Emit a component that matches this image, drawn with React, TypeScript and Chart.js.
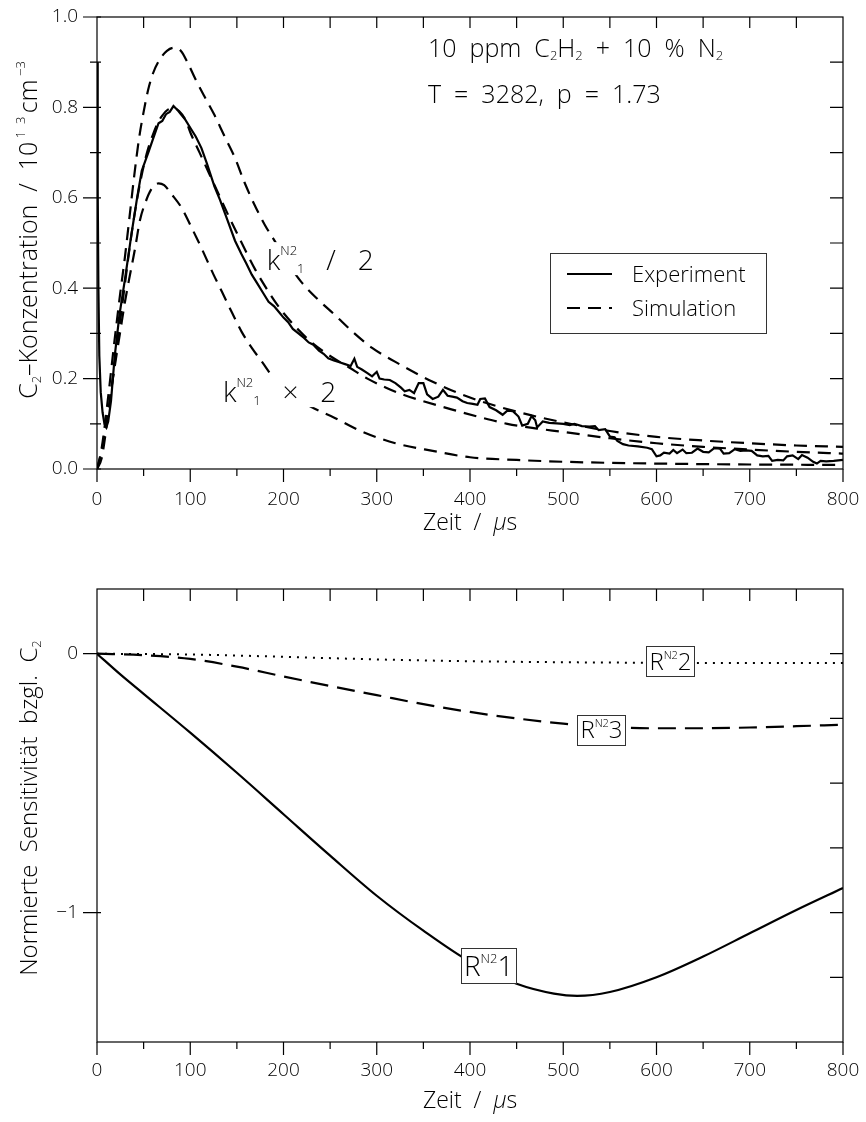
import React, { useEffect, useRef } from 'react';
import { Chart, registerables } from 'chart.js';

Chart.register(...registerables);

const FONT = '"Open Sans", Lato, "DejaVu Sans", sans-serif';
const FW = '300';

// ---------------- Top chart: C2 concentration (10^13 cm^-3) vs time (µs)
const expT = [0, 0.5, 1, 1.5, 2.5, 4, 6, 8, 10, 12, 15, 19, 24, 30, 37, 43, 48, 55, 60, 66, 70, 74, 78, 82, 86, 90, 94, 100, 106, 112, 118, 126, 132, 140, 148, 155, 160, 166, 172, 178, 184, 190, 196, 200, 205, 210, 216, 222, 227, 232, 238, 243, 248, 254, 260, 266, 272, 276, 279, 284, 290, 295, 300, 303, 308, 314, 320, 326, 330, 335, 340, 345, 350, 354, 360, 366, 371, 376, 381, 386, 392, 397, 403, 408, 411, 416, 421, 428, 435, 440, 446, 452, 456, 462, 466, 470, 472, 478, 485, 493, 500, 507, 512, 520, 528, 534, 538, 545, 550, 555, 558, 564, 570, 580, 590, 595, 600, 604, 608, 614, 618, 622, 628, 632, 638, 644, 650, 656, 662, 668, 672, 678, 684, 690, 696, 702, 708, 714, 720, 724, 730, 736, 740, 746, 752, 756, 762, 768, 772, 776, 782, 790, 800];
const expV = [0.9, 0.8, 0.62, 0.4, 0.25, 0.17, 0.125, 0.1, 0.092, 0.105, 0.15, 0.25, 0.34, 0.42, 0.52, 0.6, 0.66, 0.7, 0.73, 0.765, 0.77, 0.785, 0.79, 0.803, 0.795, 0.785, 0.775, 0.755, 0.735, 0.71, 0.675, 0.625, 0.595, 0.55, 0.505, 0.475, 0.455, 0.43, 0.41, 0.39, 0.37, 0.36, 0.345, 0.335, 0.325, 0.31, 0.3, 0.29, 0.28, 0.275, 0.262, 0.255, 0.245, 0.24, 0.236, 0.232, 0.228, 0.244, 0.226, 0.22, 0.212, 0.205, 0.215, 0.2, 0.198, 0.197, 0.19, 0.18, 0.172, 0.175, 0.168, 0.19, 0.19, 0.165, 0.155, 0.16, 0.175, 0.162, 0.16, 0.158, 0.15, 0.146, 0.144, 0.142, 0.155, 0.156, 0.137, 0.13, 0.12, 0.129, 0.128, 0.116, 0.096, 0.1, 0.117, 0.108, 0.092, 0.105, 0.102, 0.101, 0.1, 0.097, 0.1, 0.095, 0.094, 0.095, 0.086, 0.088, 0.072, 0.07, 0.062, 0.055, 0.052, 0.05, 0.047, 0.044, 0.028, 0.03, 0.036, 0.034, 0.042, 0.035, 0.043, 0.035, 0.036, 0.045, 0.038, 0.037, 0.046, 0.045, 0.034, 0.035, 0.044, 0.04, 0.041, 0.04, 0.03, 0.028, 0.029, 0.018, 0.02, 0.019, 0.028, 0.03, 0.022, 0.031, 0.025, 0.016, 0.012, 0.018, 0.017, 0.018, 0.02];

// Simulation with k1(N2) / 2
const simHalfT = [0, 5, 12, 18, 25, 30, 35, 40, 45, 50, 55, 60, 67, 75, 83, 90, 97, 105, 115, 126, 137, 148, 158, 169, 180, 191, 205, 219, 237, 255, 275, 295, 320, 360, 400, 450, 500, 550, 600, 650, 700, 750, 800];
const simHalfV = [0, 0.046, 0.16, 0.27, 0.39, 0.47, 0.56, 0.65, 0.73, 0.79, 0.84, 0.875, 0.905, 0.925, 0.932, 0.925, 0.9, 0.865, 0.825, 0.783, 0.735, 0.688, 0.635, 0.584, 0.54, 0.503, 0.455, 0.414, 0.375, 0.341, 0.302, 0.268, 0.237, 0.193, 0.158, 0.127, 0.103, 0.084, 0.071, 0.063, 0.057, 0.052, 0.049];

// Simulation with reference k1(N2)
const simRefT = [0, 5, 10, 15, 20, 25, 30, 35, 40, 45, 50, 55, 60, 65, 70, 76, 82, 88, 95, 100, 110, 120, 130, 140, 150, 160, 170, 180, 190, 200, 215, 230, 250, 270, 290, 310, 330, 350, 380, 410, 440, 470, 500, 550, 600, 650, 700, 750, 800];
const simRefV = [0, 0.04, 0.1, 0.17, 0.25, 0.33, 0.41, 0.49, 0.56, 0.62, 0.67, 0.71, 0.74, 0.765, 0.782, 0.795, 0.798, 0.792, 0.772, 0.745, 0.7, 0.655, 0.61, 0.565, 0.522, 0.48, 0.44, 0.405, 0.373, 0.345, 0.31, 0.28, 0.25, 0.225, 0.2, 0.18, 0.163, 0.15, 0.132, 0.115, 0.1, 0.09, 0.082, 0.068, 0.057, 0.049, 0.043, 0.038, 0.034];

// Simulation with k1(N2) x 2
const simDoubleT = [0, 5, 10, 14, 20, 25, 30, 34, 41, 46, 52, 58, 66, 72, 80, 91, 100, 112, 125, 134, 145, 155, 166, 177, 190, 210, 230, 255, 284, 320, 360, 400, 450, 500, 600, 700, 800];
const simDoubleV = [0, 0.024, 0.09, 0.157, 0.24, 0.305, 0.37, 0.415, 0.49, 0.55, 0.59, 0.618, 0.632, 0.628, 0.608, 0.577, 0.54, 0.489, 0.43, 0.392, 0.345, 0.304, 0.268, 0.237, 0.2, 0.163, 0.137, 0.113, 0.083, 0.057, 0.04, 0.026, 0.02, 0.016, 0.012, 0.01, 0.009];

// ---------------- Bottom chart: normalized sensitivity of C2
const r1T = [0, 25, 50, 100, 150, 200, 250, 300, 350, 400, 450, 490, 515, 550, 600, 650, 700, 750, 800];
const r1V = [0, -0.08, -0.155, -0.305, -0.46, -0.62, -0.78, -0.935, -1.07, -1.19, -1.275, -1.313, -1.322, -1.307, -1.25, -1.17, -1.08, -0.99, -0.905];
const r2T = [0, 100, 200, 300, 400, 500, 600, 700, 800];
const r2V = [0, -0.003, -0.012, -0.022, -0.029, -0.033, -0.035, -0.036, -0.036];
const r3T = [0, 50, 100, 150, 200, 250, 300, 350, 400, 450, 500, 550, 600, 650, 700, 750, 800];
const r3V = [0, -0.006, -0.02, -0.05, -0.088, -0.125, -0.16, -0.195, -0.225, -0.25, -0.27, -0.283, -0.288, -0.288, -0.285, -0.28, -0.274];

const X_MIN = 0;
const X_MAX = 800;

const pts = (t: number[], v: number[]) => t.map((x, i) => ({ x, y: v[i] }));

type Run = { t: string; s: number; dy?: number; it?: boolean };

const fontOf = (r: Run) => `${r.it ? 'italic ' : ''}${FW} ${r.s}px ${FONT}`;

function runsWidth(ctx: CanvasRenderingContext2D, runs: Run[]) {
  let w = 0;
  runs.forEach((r) => {
    ctx.font = fontOf(r);
    w += ctx.measureText(r.t).width;
  });
  return w;
}

function drawRuns(ctx: CanvasRenderingContext2D, runs: Run[], x: number, y: number, align: 'left' | 'center' = 'left') {
  ctx.save();
  ctx.fillStyle = '#000';
  ctx.textAlign = 'left';
  ctx.textBaseline = 'alphabetic';
  const total = runsWidth(ctx, runs);
  let cx = align === 'center' ? x - total / 2 : x;
  runs.forEach((r) => {
    ctx.font = fontOf(r);
    ctx.fillText(r.t, cx, y + (r.dy || 0));
    cx += ctx.measureText(r.t).width;
  });
  ctx.restore();
  return total;
}

function drawVerticalTitle(ctx: CanvasRenderingContext2D, runs: Run[], cx: number, cy: number) {
  ctx.save();
  ctx.translate(cx, cy);
  ctx.rotate(-Math.PI / 2);
  drawRuns(ctx, runs, 0, 9, 'center');
  ctx.restore();
}

function boxedLabel(ctx: CanvasRenderingContext2D, runs: Run[], cx: number, cy: number, size: number) {
  const w = runsWidth(ctx, runs);
  const h = size * 1.25;
  ctx.save();
  ctx.fillStyle = '#fff';
  ctx.strokeStyle = '#333';
  ctx.lineWidth = 1;
  ctx.setLineDash([]);
  const x0 = Math.round(cx - w / 2 - 3) + 0.5;
  const y0 = Math.round(cy - h / 2) + 0.5;
  ctx.fillRect(x0, y0, Math.round(w + 6), Math.round(h));
  ctx.strokeRect(x0, y0, Math.round(w + 6), Math.round(h));
  ctx.restore();
  drawRuns(ctx, runs, cx, cy + size * 0.36, 'center');
}

type FrameCfg = {
  id: string;
  yLeftMajor: number[];
  yLeftMinor: number[];
  yRight: number[];
  topLen: number;
  annotate: (chart: any) => void;
  titles: (chart: any) => void;
};

function framePlugin(cfg: FrameCfg) {
  return {
    id: cfg.id,
    afterDatasetsDraw(chart: any) {
      cfg.annotate(chart);
    },
    afterDraw(chart: any) {
      const { ctx, chartArea: a, scales } = chart;
      const x = scales.x;
      const y = scales.y;
      ctx.save();
      ctx.strokeStyle = '#000';
      ctx.lineWidth = 1.2;
      ctx.setLineDash([]);
      ctx.strokeRect(a.left, a.top, a.right - a.left, a.bottom - a.top);
      ctx.beginPath();
      for (let v = X_MIN; v <= X_MAX; v += 50) {
        const px = x.getPixelForValue(v);
        const major = v % 100 === 0;
        ctx.moveTo(px, a.bottom);
        ctx.lineTo(px, a.bottom + (major ? 13 : 7));
        if (v > X_MIN && v < X_MAX) {
          ctx.moveTo(px, a.top);
          ctx.lineTo(px, a.top + cfg.topLen);
        }
      }
      cfg.yLeftMajor.forEach((v) => {
        const py = y.getPixelForValue(v);
        ctx.moveTo(a.left - 14, py);
        ctx.lineTo(a.left + 4, py);
      });
      cfg.yLeftMinor.forEach((v) => {
        const py = y.getPixelForValue(v);
        ctx.moveTo(a.left - 7, py);
        ctx.lineTo(a.left + 4, py);
      });
      cfg.yRight.forEach((v) => {
        const py = y.getPixelForValue(v);
        ctx.moveTo(a.right - 13, py);
        ctx.lineTo(a.right, py);
      });
      ctx.stroke();
      ctx.restore();
      cfg.titles(chart);
    },
  };
}

const tickFont = { family: FONT, size: 19, weight: FW };

function commonX(height: number, pad: number) {
  return {
    type: 'linear',
    min: X_MIN,
    max: X_MAX,
    ticks: { stepSize: 100, color: '#000', font: tickFont, padding: pad, maxRotation: 0, autoSkip: false },
    grid: { display: false, drawTicks: false },
    border: { display: false },
    afterFit: (s: any) => {
      s.height = height;
      s.paddingLeft = 0;
      s.paddingRight = 0;
    },
  };
}

function commonY(extra: any) {
  return {
    type: 'linear',
    grid: { display: false, drawTicks: false },
    border: { display: false },
    afterFit: (s: any) => {
      s.width = 97;
      s.paddingTop = 0;
      s.paddingBottom = 0;
    },
    ...extra,
  };
}

const solid = { borderColor: '#000', borderWidth: 2.2, pointRadius: 0, fill: false };

function makeTop(canvas: HTMLCanvasElement) {
  return new Chart(canvas, {
    type: 'line',
    data: {
      datasets: [
        { ...solid, label: 'Experiment', data: pts(expT, expV), tension: 0 },
        { ...solid, label: 'Simulation k/2', data: pts(simHalfT, simHalfV), borderDash: [13, 8], cubicInterpolationMode: 'monotone' },
        { ...solid, label: 'Simulation', data: pts(simRefT, simRefV), borderDash: [13, 8], cubicInterpolationMode: 'monotone' },
        { ...solid, label: 'Simulation kx2', data: pts(simDoubleT, simDoubleV), borderDash: [13, 8], cubicInterpolationMode: 'monotone' },
      ],
    } as any,
    options: {
      responsive: false,
      animation: false,
      events: [],
      layout: { padding: { left: 0, right: 23, top: 17, bottom: 0 } },
      plugins: { legend: { display: false }, tooltip: { enabled: false } },
      scales: {
        x: commonX(91, 19),
        y: commonY({
          min: 0,
          max: 1,
          ticks: { stepSize: 0.2, color: '#000', font: tickFont, padding: 19, callback: (v: any) => Number(v).toFixed(1) },
        }),
      },
    } as any,
    plugins: [
      framePlugin({
        id: 'topFrame',
        yLeftMajor: [0, 0.2, 0.4, 0.6, 0.8, 1.0],
        yLeftMinor: [0.1, 0.3, 0.5, 0.7, 0.9],
        yRight: [0.1, 0.2, 0.3, 0.4, 0.5, 0.6, 0.7, 0.8, 0.9],
        topLen: 11,
        annotate: (chart: any) => {
          const ctx = chart.ctx as CanvasRenderingContext2D;
          const x = chart.scales.x;
          const y = chart.scales.y;
          // curve labels with white background
          const lab = (runs: Run[], t: number, v: number) => {
            const px = x.getPixelForValue(t);
            const py = y.getPixelForValue(v);
            const w = runsWidth(ctx, runs);
            ctx.save();
            ctx.fillStyle = '#fff';
            ctx.fillRect(px - 3, py - 28, w + 4, 33);
            ctx.restore();
            drawRuns(ctx, runs, px, py);
          };
          lab([{ t: 'k', s: 28 }, { t: 'N2', s: 13, dy: -15 }, { t: '1', s: 13, dy: 3 }, { t: '   /   2', s: 28 }], 182, 0.44);
          lab([{ t: 'k', s: 28 }, { t: 'N2', s: 13, dy: -15 }, { t: '1', s: 13, dy: 3 }, { t: '   ×   2', s: 28 }], 135, 0.148);

          // condition text
          drawRuns(ctx, [
            { t: '10  ppm  C', s: 25 }, { t: '2', s: 13, dy: 3 }, { t: 'H', s: 25 }, { t: '2', s: 13, dy: 3 },
            { t: '  +  10  %  N', s: 25 }, { t: '2', s: 13, dy: 3 },
          ], 428, 57);
          drawRuns(ctx, [{ t: 'T  =  3282,  p  =  1.73', s: 25 }], 428, 103);

          // legend
          ctx.save();
          ctx.strokeStyle = '#333';
          ctx.lineWidth = 1;
          ctx.strokeRect(550.5, 253.5, 216, 80);
          ctx.strokeStyle = '#000';
          ctx.lineWidth = 2.2;
          ctx.beginPath();
          ctx.moveTo(567, 274);
          ctx.lineTo(612, 274);
          ctx.stroke();
          ctx.setLineDash([13, 8]);
          ctx.beginPath();
          ctx.moveTo(567, 308);
          ctx.lineTo(612, 308);
          ctx.stroke();
          ctx.restore();
          drawRuns(ctx, [{ t: 'Experiment', s: 22 }], 632, 282);
          drawRuns(ctx, [{ t: 'Simulation', s: 22 }], 632, 316);
        },
        titles: (chart: any) => {
          const ctx = chart.ctx as CanvasRenderingContext2D;
          const a = chart.chartArea;
          drawRuns(ctx, [{ t: 'Zeit  /  ', s: 23 }, { t: 'µ', s: 23, it: true }, { t: 's', s: 23 }], (a.left + a.right) / 2, 530, 'center');
          drawVerticalTitle(ctx, [
            { t: 'C', s: 25 }, { t: '2', s: 13, dy: 4 }, { t: '–Konzentration  /  10', s: 25 }, { t: ' 1  3 ', s: 13, dy: -12 },
            { t: 'cm', s: 25 }, { t: ' −3', s: 13, dy: -12 },
          ], 28, 230);
        },
      }),
    ],
  });
}

function makeBottom(canvas: HTMLCanvasElement) {
  return new Chart(canvas, {
    type: 'line',
    data: {
      datasets: [
        { ...solid, label: 'R1', data: pts(r1T, r1V), cubicInterpolationMode: 'monotone' },
        { ...solid, label: 'R2', data: pts(r2T, r2V), borderWidth: 2, borderDash: [2, 6], cubicInterpolationMode: 'monotone' },
        { ...solid, label: 'R3', data: pts(r3T, r3V), borderDash: [18, 9], cubicInterpolationMode: 'monotone' },
      ],
    } as any,
    options: {
      responsive: false,
      animation: false,
      events: [],
      layout: { padding: { left: 0, right: 23, top: 29, bottom: 0 } },
      plugins: { legend: { display: false }, tooltip: { enabled: false } },
      scales: {
        x: commonX(80, 17),
        y: commonY({
          min: -1.5,
          max: 0.25,
          afterBuildTicks: (s: any) => {
            s.ticks = [{ value: -1 }, { value: 0 }];
          },
          ticks: { color: '#000', font: tickFont, padding: 19, callback: (v: any) => (Number(v) < 0 ? '−' + Math.abs(Number(v)) : String(v)) },
        }),
      },
    } as any,
    plugins: [
      framePlugin({
        id: 'bottomFrame',
        yLeftMajor: [0, -1],
        yLeftMinor: [],
        yRight: [0, -0.25, -0.5, -0.75, -1, -1.25],
        topLen: 12,
        annotate: (chart: any) => {
          const ctx = chart.ctx as CanvasRenderingContext2D;
          const x = chart.scales.x;
          const y = chart.scales.y;
          const lbl = (big: number, sup: number, n: string, t: number, v: number) =>
            boxedLabel(ctx, [{ t: 'R', s: big }, { t: 'N2', s: sup, dy: -big * 0.45 }, { t: n, s: big }], x.getPixelForValue(t), y.getPixelForValue(v), big);
          lbl(24, 11, '2', 615, -0.03);
          lbl(24, 11, '3', 541, -0.293);
          lbl(28, 13, '1', 420, -1.205);
        },
        titles: (chart: any) => {
          const ctx = chart.ctx as CanvasRenderingContext2D;
          const a = chart.chartArea;
          drawRuns(ctx, [{ t: 'Zeit  /  ', s: 23 }, { t: 'µ', s: 23, it: true }, { t: 's', s: 23 }], (a.left + a.right) / 2, 548, 'center');
          drawVerticalTitle(ctx, [{ t: 'Normierte  Sensitivität  bzgl.  C', s: 24 }, { t: '2', s: 13, dy: 4 }], 28, 248);
        },
      }),
    ],
  });
}

export default function App() {
  const topRef = useRef<HTMLCanvasElement>(null);
  const botRef = useRef<HTMLCanvasElement>(null);
  useEffect(() => {
    const c1 = makeTop(topRef.current!);
    const c2 = makeBottom(botRef.current!);
    return () => {
      c1.destroy();
      c2.destroy();
    };
  }, []);
  return (
    <div style={{ position: 'absolute', left: 0, top: 0, width: 866, height: 1122, background: '#fff' }}>
      <canvas ref={topRef} width={866} height={560} style={{ position: 'absolute', left: 0, top: 0, width: 866, height: 560 }} />
      <canvas ref={botRef} width={866} height={562} style={{ position: 'absolute', left: 0, top: 560, width: 866, height: 562 }} />
    </div>
  );
}
